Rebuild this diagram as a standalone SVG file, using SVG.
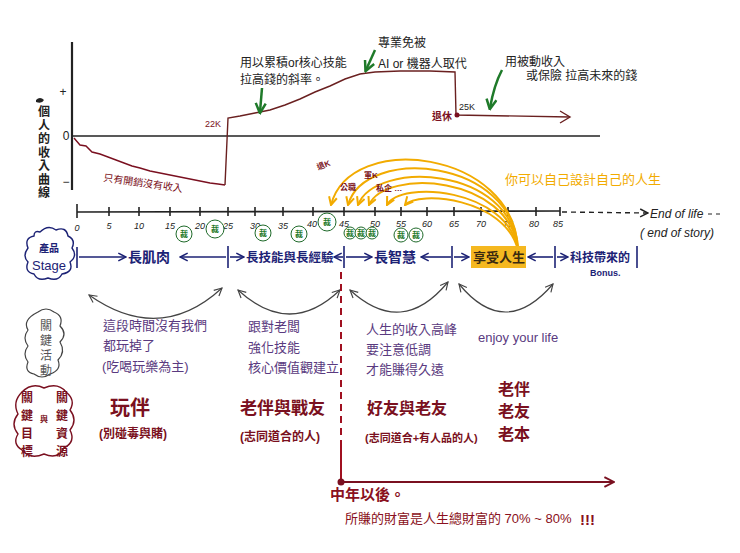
<svg xmlns="http://www.w3.org/2000/svg" width="740" height="553" viewBox="0 0 740 553">
<defs>
<style>
text{font-family:"Liberation Sans","Noto Sans CJK TC",sans-serif}
.k{fill:#222}
.ln{stroke:#222;stroke-width:1.6;fill:none}
.ax{stroke:#222;stroke-width:2.2;fill:none}
.red{fill:#7a1020}
.pur{fill:#5a3a80;font-size:13px}
.nav{fill:#1c2275;font-weight:bold}
.gol{fill:#7a1020;font-weight:bold}
.tick{font-size:9px;fill:#222;font-style:italic}
.gc{fill:#fff;stroke:#1f6a2a;stroke-width:1}
.gt{fill:#1f7a2a;font-size:8px;text-anchor:middle;font-weight:bold}
.or{stroke:#f2ab00;stroke-width:2;fill:none;marker-end:url(#oa)}
.arc{stroke:#444;stroke-width:1.2;fill:none;marker-start:url(#sa);marker-end:url(#sa)}
.st{stroke:#1c2275;stroke-width:1.6;fill:none}
</style>
<marker id="ah" viewBox="0 0 10 10" refX="9" refY="5" markerWidth="7" markerHeight="7" orient="auto-start-reverse"><path d="M1,1 L9,5 L1,9" fill="none" stroke="#222" stroke-width="1.5"/></marker>
<marker id="sa" viewBox="0 0 10 10" refX="9" refY="5" markerWidth="8" markerHeight="8" orient="auto-start-reverse"><path d="M1,1 L9,5 L1,9" fill="none" stroke="#444" stroke-width="1.2"/></marker>
<marker id="na" viewBox="0 0 10 10" refX="9" refY="5" markerWidth="6" markerHeight="6" orient="auto-start-reverse"><path d="M1,1 L9,5 L1,9" fill="none" stroke="#1c2275" stroke-width="1.6"/></marker>
<marker id="oa" viewBox="0 0 10 10" refX="9" refY="5" markerWidth="5" markerHeight="5" orient="auto"><path d="M1,1 L9,5 L1,9" fill="none" stroke="#f2ab00" stroke-width="2"/></marker>
<marker id="ga" viewBox="0 0 10 10" refX="8" refY="5" markerWidth="5" markerHeight="5" orient="auto"><path d="M1,1 L9,5 L1,9" fill="none" stroke="#1f7a2a" stroke-width="2"/></marker>
<marker id="ra" viewBox="0 0 10 10" refX="9" refY="5" markerWidth="6" markerHeight="6" orient="auto"><path d="M1,1 L9,5 L1,9" fill="none" stroke="#7a1020" stroke-width="1.6"/></marker>
</defs>
<rect width="740" height="553" fill="#fff"/>

<!-- income chart -->
<g id="income-chart">
<line class="ax" x1="72" y1="42" x2="72" y2="190"/>
<text x="63" y="96" class="k" font-size="12" text-anchor="middle">+</text>
<text x="66" y="140" class="k" font-size="12" text-anchor="middle">0</text>
<text x="66" y="186" class="k" font-size="12" text-anchor="middle">−</text>
<line class="ln" x1="72" y1="136" x2="600" y2="136"/>
<path d="M36,100 q4,-4 8,0 q-2,4 -8,2 z" fill="#222"/>
<text x="44" y="116" class="k" font-size="12" font-weight="bold" text-anchor="middle">
<tspan x="44" dy="0">個</tspan><tspan x="44" dy="13.5">人</tspan><tspan x="44" dy="13.5">的</tspan><tspan x="44" dy="13.5">收</tspan><tspan x="44" dy="13.5">入</tspan><tspan x="44" dy="13.5">曲</tspan><tspan x="44" dy="13.5">線</tspan></text>
<path d="M74,138 L80,145 L86,146 L92,152 L100,154 L108,157 L116,160 L124,163 L132,166 L140,168 L150,171 L160,173 L170,175 L180,177 L190,179 L200,181 L210,183 L218,184 L225,185" fill="none" stroke="#7a1020" stroke-width="1.4"/>
<text x="103" y="181" class="red" font-size="10" transform="rotate(8 103 181)">只有開銷沒有收入</text>
<path d="M225,185 L228,118 L240,116 L255,113 L270,110 L285,105 L300,99 L315,92 L330,86 L345,79 L360,74 L375,72 L400,71 L430,71 L455,72 L456,115 L570,117" fill="none" stroke="#6a2020" stroke-width="1.4"/>
<path d="M560,111 L570,117 L560,123" fill="none" stroke="#6a2020" stroke-width="1.4"/>
<circle cx="457" cy="115" r="2.5" fill="#7a1020"/>
<text x="205" y="127" class="red" font-size="9">22K</text>
<text x="459" y="110" class="k" font-size="9">25K</text>
<text x="432" y="120" class="red" font-size="10" font-weight="bold">退休</text>
<text x="240" y="67" class="k" font-size="12">用以累積or核心技能</text>
<text x="240" y="84" class="k" font-size="12">拉高錢的斜率。</text>
<text x="378" y="47" class="k" font-size="12">專業免被</text>
<text x="378" y="68" class="k" font-size="12">AI or 機器人取代</text>
<text x="505" y="66" class="k" font-size="12">用被動收入</text>
<text x="526" y="80" class="k" font-size="12">或保險 拉高未來的錢</text>
<path d="M262,88 L260,112" stroke="#1f7a2a" stroke-width="2.5" fill="none" marker-end="url(#ga)"/>
<path d="M375,50 L366,70" stroke="#1f7a2a" stroke-width="2.5" fill="none" marker-end="url(#ga)"/>
<path d="M502,70 Q494,85 490,108" stroke="#1f7a2a" stroke-width="2.5" fill="none" marker-end="url(#ga)"/>
</g>

<!-- timeline -->
<g id="timeline">
<line class="ln" x1="77" y1="212" x2="560" y2="211"/>
<line class="ln" x1="77" y1="204" x2="77" y2="218"/>
<g class="ln">
<line x1="109" y1="207" x2="109" y2="216"/><line x1="139" y1="207" x2="139" y2="216"/><line x1="170" y1="207" x2="170" y2="216"/><line x1="200" y1="207" x2="200" y2="216"/><line x1="228" y1="207" x2="228" y2="216"/><line x1="255" y1="207" x2="255" y2="216"/><line x1="283" y1="207" x2="283" y2="216"/><line x1="313" y1="207" x2="313" y2="216"/><line x1="344" y1="207" x2="344" y2="216"/><line x1="375" y1="207" x2="375" y2="216"/><line x1="401" y1="207" x2="401" y2="216"/><line x1="427" y1="207" x2="427" y2="216"/><line x1="454" y1="207" x2="454" y2="216"/><line x1="481" y1="207" x2="481" y2="216"/><line x1="508" y1="207" x2="508" y2="216"/><line x1="536" y1="207" x2="536" y2="216"/><line x1="560" y1="207" x2="560" y2="216"/>
</g>
<line x1="562" y1="212" x2="648" y2="213" stroke="#222" stroke-width="1.4" stroke-dasharray="5 4" marker-end="url(#ah)"/>
<line x1="708" y1="214" x2="722" y2="214" stroke="#222" stroke-width="1" stroke-dasharray="4 4"/>
<text x="650" y="218" class="k" font-size="12" font-style="italic">End of life</text>
<text x="640" y="237" class="k" font-size="12" font-style="italic">( end of story)</text>
<g class="tick" text-anchor="middle">
<text x="77" y="231">0</text><text x="109" y="229">5</text><text x="139" y="229">10</text><text x="170" y="229">15</text><text x="200" y="229">20</text><text x="228" y="229">25</text><text x="255" y="229">30</text><text x="283" y="229">35</text><text x="312" y="227">40</text><text x="344" y="227">45</text><text x="375" y="227">50</text><text x="401" y="227">55</text><text x="427" y="227">60</text><text x="454" y="227">65</text><text x="481" y="227">70</text><text x="508" y="227">75</text><text x="534" y="227">80</text><text x="558" y="227">85</text>
</g>
</g>

<!-- layoff circles -->
<g id="layoffs">
<circle class="gc" cx="184" cy="234" r="8"/><text class="gt" x="184" y="237">裁</text>
<circle class="gc" cx="215" cy="229" r="9"/><text class="gt" x="215" y="232">裁</text>
<circle class="gc" cx="263" cy="233" r="8"/><text class="gt" x="263" y="236">裁</text>
<circle class="gc" cx="299" cy="234" r="8"/><text class="gt" x="299" y="237">裁</text>
<circle class="gc" cx="327" cy="222" r="9"/><text class="gt" x="327" y="225">裁</text>
<circle class="gc" cx="350" cy="233" r="6"/><text class="gt" x="350" y="236">裁</text>
<circle class="gc" cx="361" cy="233" r="6"/><text class="gt" x="361" y="236">裁</text>
<circle class="gc" cx="372" cy="233" r="6"/><text class="gt" x="372" y="236">裁</text>
<circle class="gc" cx="401" cy="235" r="7"/><text class="gt" x="401" y="238">裁</text>
<circle class="gc" cx="416" cy="235" r="7"/><text class="gt" x="416" y="238">裁</text>
</g>

<!-- connectors -->
<g id="connectors">
<path class="or" d="M518,250 C515,150 350,130 331,205"/>
<path class="or" d="M518,250 C515,158 365,145 348,205"/>
<path class="or" d="M518,250 C512,165 375,160 358,205"/>
<path class="or" d="M518,250 C510,175 385,168 369,205"/>
<path class="or" d="M518,250 C508,188 400,180 387,205"/>
<path class="or" d="M518,250 C505,198 418,190 405,205"/>
<path class="arc" d="M89,295 Q160,345 222,288"/>
<path class="arc" d="M238,290 Q290,338 340,290"/>
<path class="arc" d="M350,290 Q402,338 448,282"/>
<path class="arc" d="M459,284 Q505,340 553,284"/>
<line x1="341" y1="272" x2="341" y2="445" stroke="#a01020" stroke-width="2" stroke-dasharray="7 5"/>
<line x1="341" y1="445" x2="341" y2="482" stroke="#a01020" stroke-width="2"/>
<line x1="341" y1="482" x2="614" y2="482" stroke="#7a1020" stroke-width="2" marker-end="url(#ra)"/>
<circle cx="341" cy="482" r="3.5" fill="#7a1020"/>
</g>
<g id="retire-labels" font-size="8" font-weight="bold" class="red">
<text x="318" y="170" transform="rotate(-20 318 170)">退K</text>
<text x="340" y="190">公職</text>
<text x="364" y="178">軍K</text>
<text x="376" y="191">私企 …</text>
</g>
<text x="505" y="184" fill="#f2ab00" font-size="13">你可以自己設計自己的人生</text>

<!-- stage row -->
<g id="stage-label">
<path d="M40,232 q8,-8 16,-2 q10,-4 12,6 q8,4 4,12 q6,8 -2,14 q4,10 -8,12 q-4,8 -14,4 q-10,4 -14,-4 q-10,-2 -6,-12 q-6,-6 0,-14 q-4,-10 6,-12 q0,-6 6,-4 z" fill="none" stroke="#1c2275" stroke-width="1.4"/>
<text x="49" y="252" fill="#1c2275" font-size="10" font-weight="bold" text-anchor="middle">產品</text>
<text x="49" y="270" fill="#1c2275" font-size="13" text-anchor="middle">Stage</text>
</g>
<g id="stages">
<line class="st" x1="77" y1="247" x2="77" y2="268"/>
<line class="st" x1="79" y1="257" x2="126" y2="257" marker-end="url(#na)"/>
<text class="nav" x="128" y="262" font-size="14">長肌肉</text>
<line class="st" x1="180" y1="257" x2="226" y2="257" marker-start="url(#na)"/>
<line class="st" x1="228" y1="246" x2="228" y2="268"/>
<line class="st" x1="230" y1="257" x2="244" y2="257" marker-end="url(#na)"/>
<text class="nav" x="246" y="262" font-size="12.5">長技能與長經驗</text>
<line class="st" x1="334" y1="257" x2="343" y2="257" marker-start="url(#na)"/>
<line class="st" x1="344" y1="246" x2="344" y2="268"/>
<line class="st" x1="346" y1="257" x2="372" y2="257" marker-end="url(#na)"/>
<text class="nav" x="374" y="262" font-size="14">長智慧</text>
<line class="st" x1="421" y1="257" x2="451" y2="257" marker-start="url(#na)"/>
<line class="st" x1="452" y1="246" x2="452" y2="268"/>
<line class="st" x1="454" y1="257" x2="469" y2="257" marker-end="url(#na)"/>
<rect x="471" y="246" width="55" height="22" fill="#f5b820"/>
<text class="nav" x="473" y="262" font-size="13" style="fill:#3a2a10">享受人生</text>
<line class="st" x1="528" y1="257" x2="553" y2="257" marker-start="url(#na)"/>
<line class="st" x1="555" y1="246" x2="555" y2="268"/>
<line class="st" x1="557" y1="257" x2="568" y2="257" marker-end="url(#na)"/>
<text class="nav" x="570" y="262" font-size="12">科技帶來的</text>
<line class="st" x1="637" y1="246" x2="637" y2="268"/>
<text x="590" y="276" fill="#1c2275" font-size="9" font-weight="bold">Bonus.</text>
</g>

<!-- key activities -->
<g id="activities-label">
<path d="M38,312 q8,-6 16,0 q10,4 6,14 q8,8 0,16 q6,10 -2,18 q4,10 -8,14 q-8,6 -16,0 q-10,-2 -6,-12 q-6,-8 0,-16 q-6,-8 0,-16 q-6,-10 10,-18 z" fill="none" stroke="#444" stroke-width="1.2"/>
<text x="46" y="330" fill="#555" font-size="12" text-anchor="middle"><tspan x="46" dy="0">關</tspan><tspan x="46" dy="15">鍵</tspan><tspan x="46" dy="15">活</tspan><tspan x="46" dy="15">動</tspan></text>
</g>
<g id="activities">
<text class="pur" x="103" y="330">這段時間沒有我們</text>
<text class="pur" x="103" y="350">都玩掉了</text>
<text class="pur" x="102" y="371">(吃喝玩樂為主)</text>
<text class="pur" x="248" y="331">跟對老闆</text>
<text class="pur" x="248" y="352">強化技能</text>
<text class="pur" x="248" y="372">核心價值觀建立</text>
<text class="pur" x="366" y="334">人生的收入高峰</text>
<text class="pur" x="366" y="354">要注意低調</text>
<text class="pur" x="366" y="374">才能賺得久遠</text>
<text class="pur" x="478" y="342">enjoy your life</text>
</g>

<!-- key goals -->
<g id="goals-label">
<path d="M22,392 q10,-10 22,-4 q14,-6 22,4 q10,8 4,18 q8,10 0,20 q6,12 -6,18 q-6,12 -20,6 q-14,6 -22,-4 q-10,-6 -4,-16 q-8,-10 0,-20 q-6,-12 4,-22 z" fill="none" stroke="#7a1020" stroke-width="1.4"/>
<g class="red" font-size="12" font-weight="bold" text-anchor="middle">
<text x="27" y="402">關</text><text x="27" y="420">鍵</text><text x="27" y="438">目</text><text x="27" y="456">標</text>
<text x="44" y="422" font-size="8">與</text>
<text x="62" y="402">關</text><text x="62" y="420">鍵</text><text x="62" y="438">資</text><text x="62" y="456">源</text>
</g>
</g>
<g id="goals">
<text class="gol" x="110" y="415" font-size="20">玩伴</text>
<text class="gol" x="99" y="438" font-size="12">(別碰毒與賭)</text>
<text class="gol" x="240" y="414" font-size="17">老伴與戰友</text>
<text class="gol" x="240" y="441" font-size="12">(志同道合的人)</text>
<text class="gol" x="367" y="414" font-size="16">好友與老友</text>
<text class="gol" x="365" y="442" font-size="11">(志同道合+有人品的人)</text>
<text class="gol" x="498" y="395" font-size="16">老伴</text>
<text class="gol" x="498" y="417" font-size="16">老友</text>
<text class="gol" x="498" y="440" font-size="16">老本</text>
</g>

<!-- midlife note -->
<g id="midlife-note">
<text x="330" y="500" fill="#8a1020" font-size="15" font-weight="bold">中年以後。</text>
<text x="345" y="523" fill="#8a1020" font-size="13">所賺的財富是人生總財富的 70% ~ 80%</text>
<text x="580" y="525" fill="#8a1020" font-size="15" font-weight="bold">!!!</text>
</g>
</svg>
